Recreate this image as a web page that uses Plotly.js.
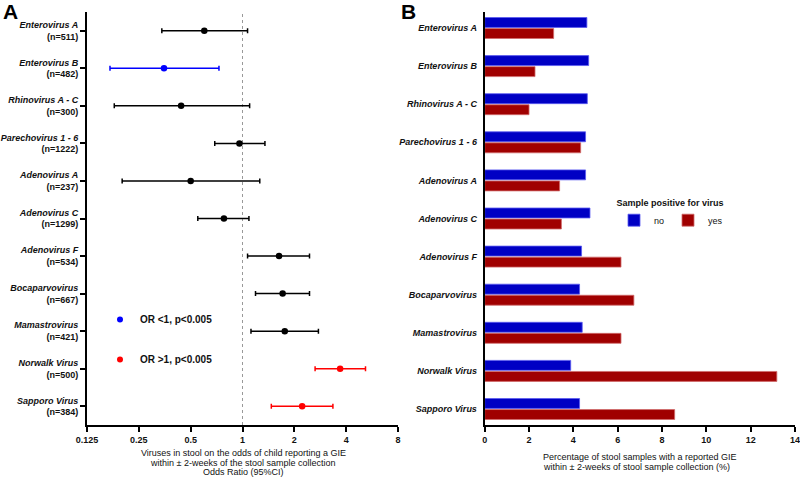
<!DOCTYPE html>
<html>
<head>
<meta charset="utf-8">
<script src="https://cdn.plot.ly/plotly-3.0.1.min.js"></script>
<style>html,body{margin:0;padding:0;background:#fff;}#chart{width:800px;height:478px;}</style>
</head>
<body>
<div id="chart"></div>
<script>
// ---------- Data ----------
const viruses = ["Enterovirus A","Enterovirus B","Rhinovirus A - C","Parechovirus 1 - 6","Adenovirus A","Adenovirus C","Adenovirus F","Bocaparvovirus","Mamastrovirus","Norwalk Virus","Sapporo Virus"];
const nSamples = [511,482,300,1222,237,1299,534,667,421,500,384];
const oddsRatio = [0.60,0.35,0.44,0.96,0.50,0.78,1.63,1.71,1.76,3.69,2.22];
const ciLower  = [0.34,0.17,0.18,0.69,0.20,0.55,1.07,1.19,1.12,2.64,1.47];
const ciUpper  = [1.07,0.73,1.10,1.35,1.26,1.09,2.45,2.45,2.76,5.18,3.35];
const significance = ["ns","lt","ns","ns","ns","ns","ns","ns","ns","gt","gt"];
const orTicks = [0.125,0.25,0.5,1,2,4,8];
const orTickText = ["0.125","0.25","0.5","1","2","4","8"];
const pctNo  = [4.61,4.69,4.63,4.55,4.55,4.75,4.37,4.28,4.40,3.88,4.28];
const pctYes = [3.11,2.27,2.00,4.33,3.38,3.46,6.15,6.73,6.15,13.18,8.57];
const sigLegend = {lt: "OR &lt;1, p&lt;0.005", gt: "OR &gt;1, p&lt;0.005"};
const titleA = ["Viruses in stool on the odds of child reporting a GIE","within ± 2-weeks of the stool sample collection","Odds Ratio (95%CI)"];
const titleB = ["Percentage of stool samples with a reported GIE","within ± 2-weeks of stool sample collection (%)"];
const legendTitleB = "Sample positive for virus";
const seriesNames = ["no","yes"];

// ---------- Styles ----------
const FONT = "Liberation Sans, Arial, Helvetica, sans-serif";
const FS = 9;
const sigColor = {ns:"#000000", lt:"#0000FF", gt:"#FF0000"};
const W = 800, H = 478;
const px = v => v / W, py = v => 1 - v / H;

const traces = [];
viruses.forEach((v, i) => {
  traces.push({
    type: "scatter", mode: "markers",
    x: [oddsRatio[i]], y: [v], xaxis: "x", yaxis: "y",
    marker: {color: sigColor[significance[i]], size: 6.5},
    error_x: {type: "data", symmetric: false,
      array: [ciUpper[i] - oddsRatio[i]], arrayminus: [oddsRatio[i] - ciLower[i]],
      color: sigColor[significance[i]], thickness: 1.5, width: 2.5},
    showlegend: false, hoverinfo: "skip"
  });
});
["lt","gt"].forEach((k, j) => {
  traces.push({
    type: "scatter", mode: "markers", x: [null], y: [null], xaxis: "x", yaxis: "y",
    marker: {color: sigColor[k], size: 6},
    name: sigLegend[k], legend: "legend2", legendgroup: "g" + j, showlegend: true
  });
});
traces.push({
  type: "bar", orientation: "h", x: pctNo, y: viruses, xaxis: "x2", yaxis: "y2",
  name: seriesNames[0], marker: {color: "#0000C4", line: {color: "#5A5AF0", width: 0.8}}
});
traces.push({
  type: "bar", orientation: "h", x: pctYes, y: viruses, xaxis: "x2", yaxis: "y2",
  name: seriesNames[1], marker: {color: "#A00000", line: {color: "#D06A6A", width: 0.8}}
});

const leftTickText = viruses.map((v, i) => `<b><i>${v}</i><br>(n=${nSamples[i]})</b>`);
const rightTickText = viruses.map(v => `<b><i>${v}</i></b>`);

const axisLine = {showline: true, linecolor: "#000", linewidth: 2, zeroline: false, showgrid: false};

const annotations = [
  {text: "<b>A</b>", x: px(1), y: py(-2), xref: "paper", yref: "paper", xanchor: "left", yanchor: "top", showarrow: false, font: {family: FONT, size: 21, color: "#000"}},
  {text: "<b>B</b>", x: px(399), y: py(-2), xref: "paper", yref: "paper", xanchor: "left", yanchor: "top", showarrow: false, font: {family: FONT, size: 21, color: "#000"}}
];
const titleAY = [453, 463, 472];
titleA.forEach((t, i) => annotations.push({text: t, x: px(243), y: py(titleAY[i]), xref: "paper", yref: "paper", xanchor: "center", yanchor: "middle", showarrow: false, font: {family: FONT, size: FS, color: "#111"}}));
const titleBY = [457, 467];
titleB.forEach((t, i) => annotations.push({text: t, x: px(541), y: py(titleBY[i]), xref: "paper", yref: "paper", xanchor: "left", yanchor: "middle", showarrow: false, font: {family: FONT, size: FS, color: "#111"}}));

const layout = {
  width: W, height: H,
  margin: {l: 0, r: 0, t: 0, b: 0},
  paper_bgcolor: "#fff", plot_bgcolor: "#fff",
  font: {family: FONT, color: "#111"},
  xaxis: Object.assign({}, axisLine, {
    domain: [px(87), px(398)], anchor: "y", type: "log",
    range: [Math.log10(0.125), Math.log10(8)],
    tickmode: "array", tickvals: orTicks, ticktext: orTickText,
    ticks: "outside", ticklen: 5, tickwidth: 2, tickcolor: "#000", ticklabeloverflow: "allow",
    tickfont: {family: FONT, size: FS, color: "#111", weight: "bold"}
  }),
  yaxis: Object.assign({}, axisLine, {
    domain: [1 - 425 / H, 1 - 12 / H], anchor: "x", type: "category",
    categoryorder: "array", categoryarray: viruses,
    range: [10.5, -0.5], tickmode: "array", tickvals: viruses, ticktext: leftTickText,
    ticks: "outside", ticklen: 5, tickwidth: 2, tickcolor: "#000",
    tickfont: {family: FONT, size: FS, color: "#111"}
  }),
  xaxis2: Object.assign({}, axisLine, {
    domain: [px(484.7), px(795)], anchor: "y2", range: [0, 14], dtick: 2,
    ticks: "outside", ticklen: 5, tickwidth: 2, tickcolor: "#000", ticklabeloverflow: "allow",
    tickfont: {family: FONT, size: FS, color: "#111", weight: "bold"}
  }),
  yaxis2: Object.assign({}, axisLine, {
    domain: [1 - 425 / H, 1 - 12 / H], anchor: "x2", type: "category",
    categoryorder: "array", categoryarray: viruses,
    range: [10.42, -0.42], tickmode: "array", tickvals: viruses, ticktext: rightTickText,
    ticks: "", ticklabelstandoff: 4,
    tickfont: {family: FONT, size: FS, color: "#111"}
  }),
  barmode: "group", bargap: 0.42, bargroupgap: 0.1,
  shapes: [{type: "line", xref: "x", yref: "paper", x0: 1, x1: 1, y0: 1 - 425 / H, y1: 1 - 12 / H,
            line: {color: "#999", width: 1, dash: "dot"}, layer: "below"}],
  annotations: annotations,
  legend: {
    orientation: "h", x: px(614), y: py(194), xanchor: "left", yanchor: "top",
    title: {text: "<b>" + legendTitleB + "</b>", side: "top center", font: {family: FONT, size: FS, color: "#111"}},
    font: {family: FONT, size: FS, color: "#111"}, entrywidth: 9, itemwidth: 30,
    bgcolor: "rgba(0,0,0,0)", traceorder: "normal"
  },
  legend2: {
    x: px(100), y: py(305), xanchor: "left", yanchor: "top",
    font: {family: FONT, size: 10, color: "#111", weight: "bold"}, itemwidth: 30,
    tracegroupgap: 21, traceorder: "grouped", bgcolor: "rgba(0,0,0,0)"
  }
};

Plotly.newPlot("chart", traces, layout, {displayModeBar: false, staticPlot: true});
</script>
</body>
</html>
